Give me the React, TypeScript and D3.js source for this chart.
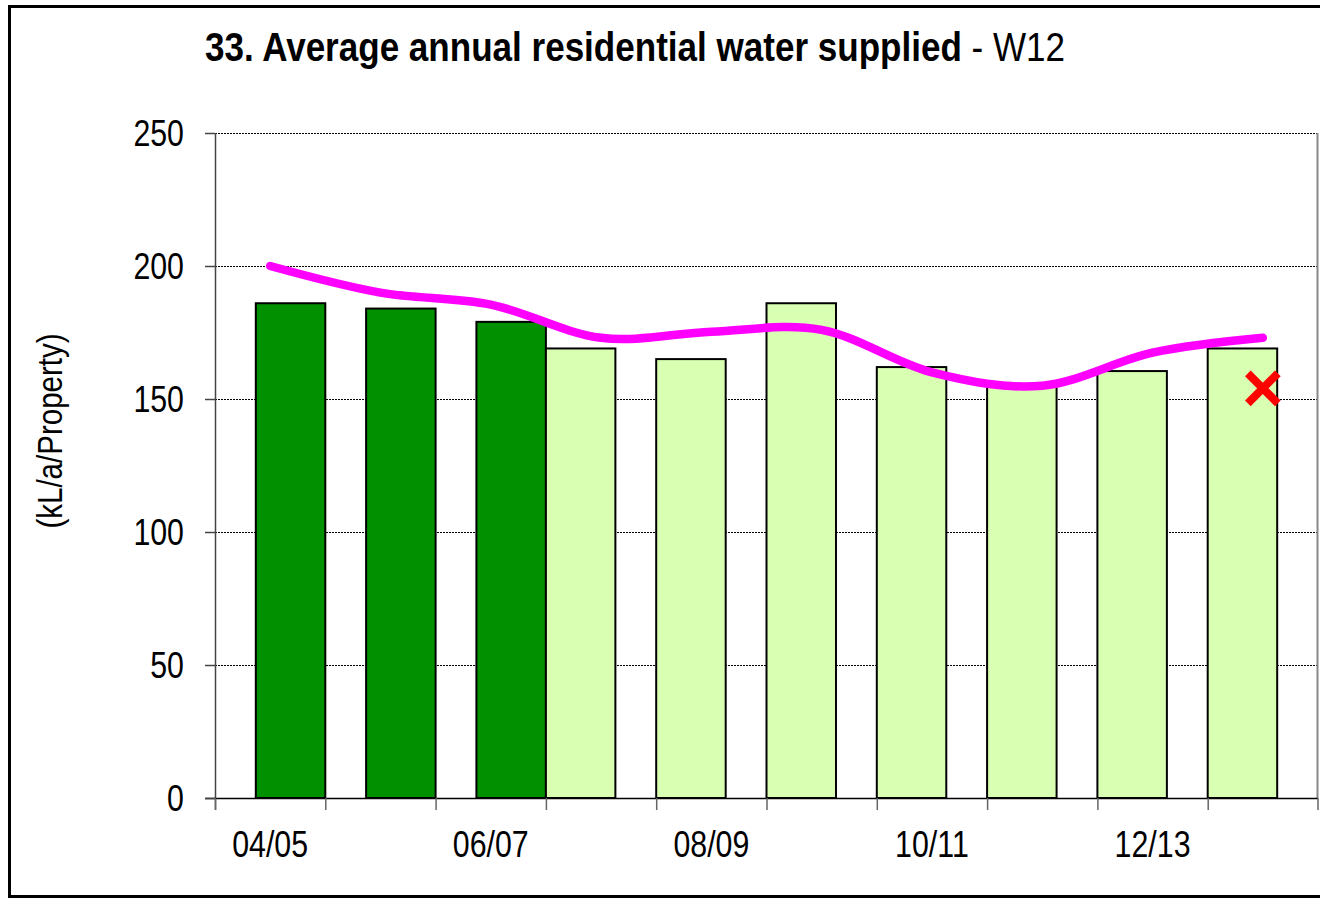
import * as d3 from "d3";

const categories = ["04/05", "05/06", "06/07", "07/08", "08/09", "09/10", "10/11", "11/12", "12/13", "13/14"];
// dark bars: earlier years, light bars: later years
const pastValues = [186, 184, 179, null, null, null, null, null, null, null];
const recentValues = [null, null, null, 169, 165, 186, 162, 155, 160.5, 169];
// smoothed magenta line
const lineValues = [200, 190, 185.5, 173, 175.3, 176, 160, 155, 167.4, 173];
const markerPoint = { category: "13/14", value: 154 };
const yTicks = [0, 50, 100, 150, 200, 250];
const shownLabels = ["04/05", "06/07", "08/09", "10/11", "12/13"];

const W = 1320;
const H = 904;
const FONT = "'Liberation Sans', Arial, sans-serif";
const NARROW = 0.82; // squeeze Liberation Sans to look like Arial Narrow

type NTProps = {
    x: number;
    y: number;
    size: number;
    anchor?: string;
    baseline?: string;
    rotate?: number;
    squeeze?: number;
    children: React.ReactNode;
};

const NarrowText = ({ x, y, size, anchor = "start", baseline, rotate = 0, squeeze = NARROW, children }: NTProps) => (
    <text
        transform={`translate(${x},${y}) rotate(${rotate}) scale(${squeeze},1)`}
        textAnchor={anchor}
        dominantBaseline={baseline}
        fontFamily={FONT}
        fontSize={size}
        fill="#000"
    >
        {children}
    </text>
);

export default function App() {
    const left = 215;
    const right = 1318;
    const top = 133;
    const bottom = 798;

    const x = d3.scaleBand<string>().domain(categories).range([left, right]).padding(0);
    const y = d3.scaleLinear().domain([0, 250]).range([bottom, top]);
    const bw = x.bandwidth();
    const barW = bw * 0.63;

    const line = d3
        .line<number>()
        .x((_, i) => (x(categories[i]) as number) + bw / 2)
        .y((d) => y(d))
        .curve(d3.curveCardinal.tension(0));

    const mx = (x(markerPoint.category) as number) + bw / 2;
    const my = y(markerPoint.value);
    const ms = 15;

    return (
        <div style={{ position: "fixed", left: 0, top: 0 }}>
            <svg width={W} height={H} style={{ display: "block", background: "#fff" }}>
                <rect x={9.5} y={6.5} width={1340} height={890} fill="#fff" stroke="#000" strokeWidth={3} />

                <NarrowText x={205} y={61} size={41} squeeze={0.855}>
                    <tspan fontWeight="bold">33. Average annual residential water supplied</tspan>
                    <tspan> - W12</tspan>
                </NarrowText>

                {/* grid lines */}
                {yTicks.filter((t) => t > 0).map((t) => (
                    <line key={t} x1={left} x2={right} y1={y(t) + 0.5} y2={y(t) + 0.5} stroke="#000" strokeWidth={1} strokeDasharray="2,1" />
                ))}
                <line x1={right - 0.5} x2={right - 0.5} y1={top} y2={bottom} stroke="#888" strokeWidth={2} />

                {/* bars */}
                {pastValues.map((v, i) =>
                    v == null ? null : (
                        <rect
                            key={"p" + i}
                            x={(x(categories[i]) as number) + bw - barW}
                            y={y(v)}
                            width={barW}
                            height={y(0) - y(v)}
                            fill="#009000"
                            stroke="#000"
                            strokeWidth={2}
                        />
                    )
                )}
                {recentValues.map((v, i) =>
                    v == null ? null : (
                        <rect
                            key={"r" + i}
                            x={x(categories[i]) as number}
                            y={y(v)}
                            width={barW}
                            height={y(0) - y(v)}
                            fill="#D9FFB3"
                            stroke="#000"
                            strokeWidth={2}
                        />
                    )
                )}

                {/* axes */}
                <line x1={left + 0.5} x2={left + 0.5} y1={top} y2={bottom + 12} stroke="#444" strokeWidth={1.5} />
                <line x1={left - 10} x2={right} y1={bottom + 0.5} y2={bottom + 0.5} stroke="#000" strokeWidth={1.5} />
                {yTicks.map((t) => (
                    <g key={"yt" + t}>
                        <line x1={left - 10} x2={left} y1={y(t) + 0.5} y2={y(t) + 0.5} stroke="#444" strokeWidth={1.5} />
                        <NarrowText x={184} y={y(t)} size={37} anchor="end" baseline="central">
                            {t}
                        </NarrowText>
                    </g>
                ))}
                {categories.map((c) => (
                    <line
                        key={"xt" + c}
                        x1={(x(c) as number) + 0.5}
                        x2={(x(c) as number) + 0.5}
                        y1={bottom}
                        y2={bottom + 12}
                        stroke="#666"
                        strokeWidth={1.5}
                    />
                ))}
                <line x1={right} x2={right} y1={bottom} y2={bottom + 12} stroke="#666" strokeWidth={1.5} />
                {shownLabels.map((c) => (
                    <NarrowText key={"xl" + c} x={(x(c) as number) + bw / 2} y={857} size={37} anchor="middle">
                        {c}
                    </NarrowText>
                ))}

                <NarrowText x={62} y={431} size={36} anchor="middle" rotate={-90}>
                    (kL/a/Property)
                </NarrowText>

                {/* trend line */}
                <path d={line(lineValues) ?? ""} fill="none" stroke="#FF00FF" strokeWidth={8.5} strokeLinecap="round" />

                {/* marker */}
                <g stroke="#FF0000" strokeWidth={8}>
                    <line x1={mx - ms} x2={mx + ms} y1={my - ms} y2={my + ms} />
                    <line x1={mx - ms} x2={mx + ms} y1={my + ms} y2={my - ms} />
                </g>
            </svg>
        </div>
    );
}
